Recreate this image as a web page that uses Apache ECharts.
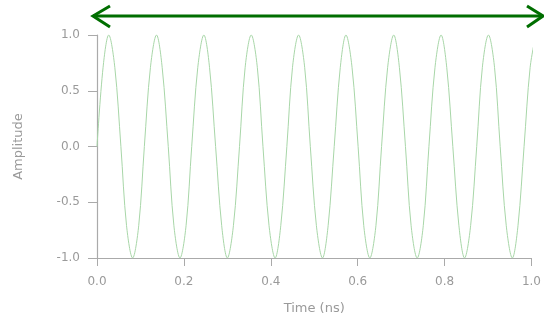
<!DOCTYPE html>
<html>
<head>
<meta charset="utf-8">
<script src="https://cdn.jsdelivr.net/npm/echarts@6/dist/echarts.min.js"></script>
<style>html,body{margin:0;padding:0;background:#fff;}#c{width:544px;height:321px;}</style>
</head>
<body>
<div id="c"></div>
<script>
// Time (ns), read at eighth-period steps off the picture
var time = [0.000,0.014,0.027,0.041,0.055,0.068,0.082,0.096,
  0.109,0.123,0.137,0.150,0.164,0.177,0.191,0.205,
  0.218,0.232,0.246,0.259,0.273,0.287,0.300,0.314,
  0.328,0.341,0.355,0.369,0.382,0.396,0.410,0.423,
  0.437,0.450,0.464,0.478,0.491,0.505,0.519,0.532,
  0.546,0.560,0.573,0.587,0.601,0.614,0.628,0.642,
  0.655,0.669,0.683,0.696,0.710,0.723,0.737,0.751,
  0.764,0.778,0.792,0.805,0.819,0.833,0.846,0.860,
  0.874,0.887,0.901,0.915,0.928,0.942,0.956,0.969,
  0.983,0.997,1.010];
var amplitude = [0,0.71,1,0.71,0,-0.71,-1,-0.71,
  0,0.71,1,0.71,0,-0.71,-1,-0.71,
  0,0.71,1,0.71,0,-0.71,-1,-0.71,
  0,0.71,1,0.71,0,-0.71,-1,-0.71,
  0,0.71,1,0.71,0,-0.71,-1,-0.71,
  0,0.71,1,0.71,0,-0.71,-1,-0.71,
  0,0.71,1,0.71,0,-0.71,-1,-0.71,
  0,0.71,1,0.71,0,-0.71,-1,-0.71,
  0,0.71,1,0.71,0,-0.71,-1,-0.71,
  0,0.71,1];
var xTickLabels = ['0.0','0.2','0.4','0.6','0.8','1.0'];
var yTickLabels = ['-1.0','-0.5','0.0','0.5','1.0'];

var pts = time.map(function(t,i){return [t, amplitude[i]];});
var chart = echarts.init(document.getElementById('c'), null, {renderer:'canvas'});
var font = 'DejaVu Sans';
var grey = '#9a9a9a';
chart.setOption({
  animation:false,
  backgroundColor:'#fff',
  grid:{left:97, right:3, top:35, bottom:63, containLabel:false},
  xAxis:{type:'value', min:0, max:1.0, interval:0.2,
    name:'Time (ns)', nameLocation:'middle', nameGap:44,
    nameTextStyle:{color:grey, fontFamily:font, fontSize:13},
    axisLine:{show:true, onZero:false, lineStyle:{color:'#aaa', width:1.2}},
    axisTick:{show:true, length:8, lineStyle:{color:'#aaa'}},
    axisLabel:{color:grey, fontFamily:font, fontSize:12, margin:18,
      formatter:function(v){return xTickLabels[Math.round(v/0.2)];}},
    splitLine:{show:false}},
  yAxis:{type:'value', min:-1, max:1, interval:0.5,
    name:'Amplitude', nameLocation:'middle', nameGap:72, nameRotate:90,
    nameTextStyle:{color:grey, fontFamily:font, fontSize:13},
    axisLine:{show:true, onZero:false, lineStyle:{color:'#aaa', width:1.2}},
    axisTick:{show:true, length:9, lineStyle:{color:'#aaa'}},
    axisLabel:{color:grey, fontFamily:font, fontSize:12, margin:17,
      formatter:function(v){return yTickLabels[Math.round((v+1)/0.5)];}},
    splitLine:{show:false}},
  series:[{type:'line', data:pts, smooth:0.35, showSymbol:false, clip:true,
    lineStyle:{color:'#a8d6a8', width:1}}],
  graphic:[
    {type:'line', shape:{x1:93,y1:16,x2:543,y2:16}, style:{stroke:'#006e00', lineWidth:3}},
    {type:'polyline', shape:{points:[[110,6],[93,16],[110,27]]}, style:{stroke:'#006e00', lineWidth:3, fill:null}},
    {type:'polyline', shape:{points:[[527,6],[543,16],[527,27]]}, style:{stroke:'#006e00', lineWidth:3, fill:null}}
  ]
});
</script>
</body>
</html>
